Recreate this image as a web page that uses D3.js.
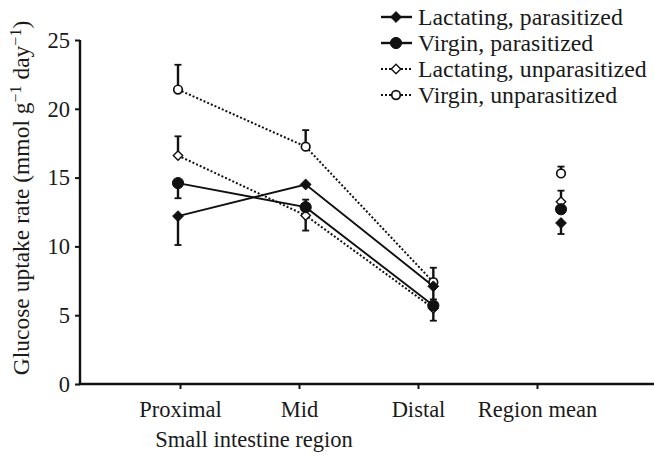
<!DOCTYPE html>
<html>
<head>
<meta charset="utf-8">
<script src="https://cdn.jsdelivr.net/npm/d3@7"></script>
<style>
  body { margin: 0; background: #fff; }
  text { font-family: "Liberation Serif", "Times New Roman", serif; fill: #1a1a1a; }
</style>
</head>
<body>
<svg id="chart" width="654" height="458"></svg>
<script>
// ---- data ----
const categories = ["Proximal", "Mid", "Distal", "Region mean"];
const yTicks = [0, 5, 10, 15, 20, 25];

const lactPar   = [12.2, 14.5, 7.1, 11.7];
const virgPar   = [14.6, 12.85, 5.7, 12.7];
const lactUnpar = [16.6, 12.25, 5.5, 13.25];
const virgUnpar = [21.4, 17.25, 7.4, 15.3];

// signed error bar lengths: positive = drawn upward, negative = downward
const lactParErr   = [-2.1, 0, -0.95, -0.8];
const virgParErr   = [-1.1, 0.55, -1.1, 0];
const lactUnparErr = [1.4, -1.1, 0, 0.8];
const virgUnparErr = [1.8, 1.2, 1.05, 0.5];

const seriesNames = ["Lactating, parasitized", "Virgin, parasitized",
                     "Lactating, unparasitized", "Virgin, unparasitized"];

const series = [
  { name: seriesNames[0], values: lactPar,   err: lactParErr,   shape: "diamond", filled: true,  dotted: false },
  { name: seriesNames[1], values: virgPar,   err: virgParErr,   shape: "circle",  filled: true,  dotted: false },
  { name: seriesNames[2], values: lactUnpar, err: lactUnparErr, shape: "diamond", filled: false, dotted: true },
  { name: seriesNames[3], values: virgUnpar, err: virgUnparErr, shape: "circle",  filled: false, dotted: true }
];

// ---- layout ----
const svg = d3.select("#chart");
const mLeft = 80, mBottom = 384, mTop = 40, mRight = 654;
const axisFont = 22.5, legendFont = 23.8, yTitleFont = 23.5;

const y = d3.scaleLinear().domain([0, 25]).range([mBottom, mTop]);
const xLabel = d3.scalePoint().domain(categories).range([180, 537]);
const xMark = d3.scalePoint().domain(categories).range([178, 561]);

const ink = "#111";

// y axis
const yAxis = d3.axisLeft(y).tickValues(yTicks).tickSize(5).tickPadding(5).tickFormat(d3.format("d"));
const gy = svg.append("g").attr("transform", `translate(${mLeft},0)`).call(yAxis);
gy.select(".domain").attr("stroke", ink).attr("stroke-width", 2.4).attr("d", `M0,${mTop}V${mBottom}`);
gy.selectAll(".tick line").attr("stroke", ink).attr("stroke-width", 2);
gy.selectAll(".tick text").attr("font-size", axisFont).attr("font-family", "Liberation Serif").attr("fill", "#1a1a1a");

// x axis
const xAxis = d3.axisBottom(xLabel).tickSize(5).tickPadding(12);
const gx = svg.append("g").attr("transform", `translate(0,${mBottom})`).call(xAxis);
gx.select(".domain").attr("stroke", ink).attr("stroke-width", 2.4).attr("d", `M${mLeft - 1.2},0H${mRight}`);
gx.selectAll(".tick line").attr("stroke", ink).attr("stroke-width", 2);
gx.selectAll(".tick text").attr("font-size", axisFont).attr("font-family", "Liberation Serif").attr("fill", "#1a1a1a");

// axis titles
svg.append("text").attr("x", 254).attr("y", 447).attr("text-anchor", "middle")
  .attr("font-size", axisFont).text("Small intestine region");

const yt = svg.append("text").attr("transform", "translate(29,198) rotate(-90)")
  .attr("text-anchor", "middle").attr("font-size", yTitleFont);
yt.append("tspan").text("Glucose uptake rate (mmol g");
yt.append("tspan").attr("dy", -8).attr("font-size", 16).text("\u22121");
yt.append("tspan").attr("dy", 8).text(" day");
yt.append("tspan").attr("dy", -8).attr("font-size", 16).text("\u22121");
yt.append("tspan").attr("dy", 8).text(")");

// ---- marks ----
const lineCats = categories.slice(0, 3);
const line = d3.line().x(d => xMark(d.c)).y(d => y(d.v));

function drawMarker(g, s, cx, cy) {
  if (s.shape === "circle") {
    g.append("circle").attr("cx", cx).attr("cy", cy)
      .attr("r", s.filled ? 5.6 : 4.3)
      .attr("fill", s.filled ? ink : "#fff")
      .attr("stroke", ink).attr("stroke-width", s.filled ? 1 : 1.7);
  } else {
    const r = s.filled ? 5.4 : 4.7;
    g.append("path")
      .attr("d", `M${cx},${cy - r}L${cx + r},${cy}L${cx},${cy + r}L${cx - r},${cy}Z`)
      .attr("fill", s.filled ? ink : "#fff")
      .attr("stroke", ink).attr("stroke-width", s.filled ? 1 : 1.4);
  }
}

const gLines = svg.append("g");
series.forEach(s => {
  const pts = lineCats.map((c, i) => ({ c, v: s.values[i] }));
  gLines.append("path").attr("d", line(pts)).attr("fill", "none")
    .attr("stroke", ink).attr("stroke-width", s.dotted ? 2 : 1.9)
    .attr("stroke-dasharray", s.dotted ? "2,2" : null);
});

const gErr = svg.append("g");
series.forEach(s => {
  categories.forEach((c, i) => {
    const e = s.err[i];
    if (!e) return;
    const cx = xMark(c), y0 = y(s.values[i]), y1 = y(s.values[i] + e);
    gErr.append("line").attr("x1", cx).attr("x2", cx).attr("y1", y0).attr("y2", y1)
      .attr("stroke", ink).attr("stroke-width", 2.4);
    gErr.append("line").attr("x1", cx - 3.5).attr("x2", cx + 3.5).attr("y1", y1).attr("y2", y1)
      .attr("stroke", ink).attr("stroke-width", 1.8);
  });
});

const gMarks = svg.append("g");
series.slice().reverse().forEach(s => {
  categories.forEach((c, i) => drawMarker(gMarks, s, xMark(c), y(s.values[i])));
});

// ---- legend ----
const legend = svg.append("g");
series.forEach((s, i) => {
  const cy = 17 + i * 26;
  legend.append("line").attr("x1", 381).attr("x2", 412).attr("y1", cy).attr("y2", cy)
    .attr("stroke", ink).attr("stroke-width", s.dotted ? 2 : 2.4)
    .attr("stroke-dasharray", s.dotted ? "2,2" : null);
  drawMarker(legend, s, 396, cy);
  legend.append("text").attr("x", 418).attr("y", cy + 7.5).attr("font-size", legendFont).text(s.name);
});
</script>
</body>
</html>
